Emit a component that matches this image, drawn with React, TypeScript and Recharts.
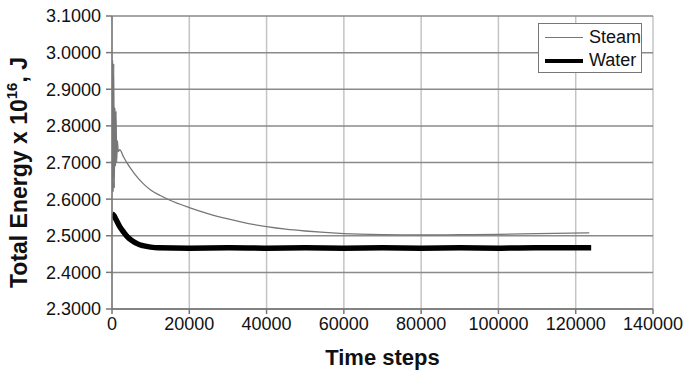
import { LineChart, Line, XAxis, YAxis, CartesianGrid, Legend, Label } from 'recharts'

// time steps and total energy (x 10^16 J)
const steamSteps = [
  0, 150, 300, 450, 600, 750, 900, 1050, 1200, 1400, 1600, 2000, 3000, 4000, 5000, 6000, 8000,
  10000, 12500, 15000, 20000, 25000, 30000, 35000, 40000, 45000, 50000, 55000, 60000, 70000,
  80000, 90000, 100000, 110000, 123500,
]
const steamEnergy = [
  2.62, 2.98, 2.62, 2.97, 2.63, 2.85, 2.69, 2.84, 2.7, 2.76, 2.73, 2.735, 2.715, 2.697, 2.681, 2.667, 2.643,
  2.625, 2.61, 2.597, 2.577, 2.56, 2.546, 2.534, 2.525, 2.518, 2.513, 2.509, 2.506, 2.503,
  2.502, 2.503, 2.504, 2.506, 2.508,
]
const waterSteps = [
  0, 500, 1000, 2000, 3000, 4000, 5000, 6000, 7000, 8000, 10000, 12000, 20000, 30000, 40000, 50000,
  60000, 70000, 80000, 90000, 100000, 110000, 124000,
]
const waterEnergy = [
  2.56, 2.555, 2.545, 2.525, 2.51, 2.497, 2.488, 2.481, 2.476, 2.473, 2.469, 2.467, 2.466, 2.467, 2.466, 2.467,
  2.466, 2.467, 2.466, 2.467, 2.466, 2.467, 2.467,
]
const xTicks = [0, 20000, 40000, 60000, 80000, 100000, 120000, 140000]
const yTicks = [2.3, 2.4, 2.5, 2.6, 2.7, 2.8, 2.9, 3.0, 3.1]

const steam = steamSteps.map((t, i) => ({ t, steam: steamEnergy[i] }))
const water = waterSteps.map((t, i) => ({ t, water: waterEnergy[i] }))

const font = 'Arial, "Liberation Sans", sans-serif'

function YTitle(props: any) {
  const vb = props.viewBox
  const cx = 19
  const cy = vb.y + vb.height / 2 + 10
  return (
    <text
      x={cx} y={cy} transform={`rotate(-90 ${cx} ${cy})`} textAnchor="middle" dominantBaseline="central"
      fontFamily={font} fontWeight="bold" fontSize={23} fill="#111"
    >
      Total Energy x 10<tspan dy={-8} fontSize={15}>16</tspan><tspan dy={8}>, J</tspan>
    </text>
  )
}

function LegendBox() {
  return (
    <div style={{
      border: '1.5px solid #777', background: '#fff', width: 104, height: 50, boxSizing: 'border-box',
      fontFamily: font, fontSize: 18, color: '#111', padding: '2px 0 0 6px',
    }}>
      <div style={{ display: 'flex', alignItems: 'center', height: 23 }}>
        <span style={{ width: 38, height: 1.5, background: '#777', marginRight: 6 }} />Steam
      </div>
      <div style={{ display: 'flex', alignItems: 'center', height: 23 }}>
        <span style={{ width: 38, height: 4, background: '#000', marginRight: 6 }} />Water
      </div>
    </div>
  )
}

export default function App() {
  return (
    <div style={{ position: 'absolute', left: 0, top: 0, background: '#fff' }}>
      <LineChart width={686} height={370} margin={{ top: 16, right: 33, left: 0, bottom: 0 }}>
        <CartesianGrid horizontal={false} stroke="#c4c4c4" strokeWidth={1.5} verticalValues={xTicks} />
        <CartesianGrid vertical={false} stroke="#8a8a8a" strokeWidth={1.5} horizontalValues={yTicks} />
        <XAxis
          dataKey="t" type="number" domain={[0, 140000]} ticks={xTicks} height={61}
          stroke="#777" strokeWidth={1.5} tickSize={5} tickMargin={3}
          tick={{ fontSize: 18, fill: '#111', fontFamily: font }}
          allowDataOverflow
        >
          <Label value="Time steps" position="insideBottom" offset={5}
            style={{ fontSize: 22, fontWeight: 'bold', fill: '#111', fontFamily: font }} />
        </XAxis>
        <YAxis
          type="number" domain={[2.3, 3.1]} ticks={yTicks} width={112}
          stroke="#777" strokeWidth={1.5} tickSize={6} tickMargin={5}
          tickFormatter={(v: number) => v.toFixed(4)}
          tick={{ fontSize: 18, fill: '#111', fontFamily: font }}
          allowDataOverflow
        >
          <Label content={YTitle} />
        </YAxis>
        <Legend
          layout="vertical" align="center" verticalAlign="middle" content={LegendBox}
          wrapperStyle={{ position: 'absolute', left: 538, top: 23, width: 104, height: 50 }}
        />
        <Line data={steam} dataKey="steam" type="monotoneX" stroke="#777" strokeWidth={1.3}
          dot={false} isAnimationActive={false} name="Steam" />
        <Line data={water} dataKey="water" type="monotoneX" stroke="#000" strokeWidth={5.5}
          dot={false} isAnimationActive={false} name="Water" />
      </LineChart>
    </div>
  )
}
